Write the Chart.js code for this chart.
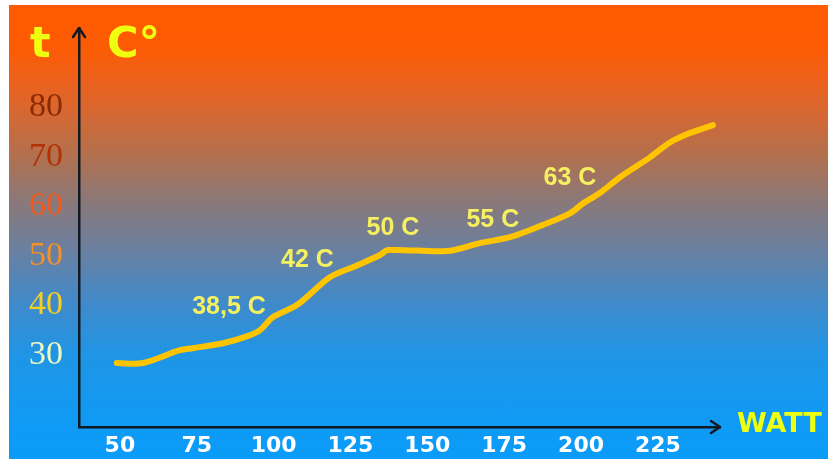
<!DOCTYPE html>
<html>
<head>
<meta charset="utf-8">
<script src="https://cdn.jsdelivr.net/npm/chart.js@4.4.1/dist/chart.umd.min.js"></script>
<style>
  html, body { margin: 0; padding: 0; background: #fff; }
  #wrap { position: relative; width: 828px; height: 459px; overflow: hidden; }
  #bg {
    position: absolute; left: 9px; top: 5px; width: 819px; height: 454px;
    background: linear-gradient(to bottom,
      #ff5a00 0%, #fd5b02 9%, #ec611e 17%, #dc662c 22%, #b3704e 33%,
      #8b7878 43%, #6a80a0 54%, #3f8acb 66%, #1f95e5 77%, #0f9af5 92%, #0a9cf8 100%);
  }
  #chart { position: absolute; left: 0; top: 0; }
  .lbl { position: absolute; color: #eeff10; font-family: "DejaVu Sans", sans-serif; font-weight: bold; white-space: nowrap; }
</style>
</head>
<body>
<div id="wrap">
  <div id="bg"></div>
  <canvas id="chart" width="828" height="459"></canvas>
  <div class="lbl" style="left:30px; top:17px; font-size:43px;">t</div>
  <div class="lbl" style="left:107px; top:17px; font-size:43px;">C°</div>
  <div class="lbl" style="left:737px; top:407px; font-size:27px;">WATT</div>
</div>
<script>
// temperature curve
const wattX = [49, 57.5, 69.5, 73.7, 83.5, 91.3, 95.5, 99.8, 107.6, 118.3, 127.1, 134.6, 137.2, 156.4, 167.1, 176.9, 185.7, 196.4, 200.6, 206.1, 212.7, 222.4, 228.9, 235.4, 242.9];
const tempY = [28.4, 28.4, 31.0, 31.4, 32.4, 33.8, 35.0, 37.7, 40.1, 45.7, 48.1, 50.2, 51.2, 51.0, 52.6, 53.8, 55.8, 58.6, 60.6, 62.7, 65.9, 69.9, 72.9, 74.8, 76.4];

const xTicks = [50, 75, 100, 125, 150, 175, 200, 225];
const yTicks = [30, 40, 50, 60, 70, 80];
const yTickColors = ['#eef8c0', '#f5d020', '#f5902a', '#f05a20', '#b33205', '#8c2a05'];

// value labels along the curve
const annoText = ['38,5 C', '42 C', '50 C', '55 C', '63 C'];
const annoX = [85.5, 111, 138.8, 171.3, 196.4];
const annoY = [39.6, 49.2, 55.6, 57.2, 65.7];

const axisColor = '#111a22';

const arrowPlugin = {
  id: 'arrows',
  afterDraw(chart) {
    const ctx = chart.ctx;
    const a = chart.chartArea;
    ctx.save();
    ctx.strokeStyle = axisColor;
    ctx.lineWidth = 2.5;
    ctx.lineCap = 'round';
    ctx.lineJoin = 'round';
    ctx.beginPath();
    ctx.moveTo(a.left - 6, a.top + 9);
    ctx.lineTo(a.left, a.top);
    ctx.lineTo(a.left + 6, a.top + 9);
    ctx.moveTo(a.right - 9, a.bottom - 6);
    ctx.lineTo(a.right, a.bottom);
    ctx.lineTo(a.right - 9, a.bottom + 6);
    ctx.stroke();
    ctx.restore();
  }
};

const annoPlugin = {
  id: 'annoLabels',
  afterDatasetsDraw(chart) {
    const ctx = chart.ctx;
    const xs = chart.scales.x, ys = chart.scales.y;
    ctx.save();
    ctx.font = 'bold 25px "Liberation Sans", Arial, sans-serif';
    ctx.fillStyle = '#f5f060';
    ctx.textAlign = 'center';
    ctx.textBaseline = 'middle';
    annoText.forEach((t, i) => {
      ctx.fillText(t, xs.getPixelForValue(annoX[i]), ys.getPixelForValue(annoY[i]));
    });
    ctx.restore();
  }
};

new Chart(document.getElementById('chart'), {
  type: 'line',
  data: {
    datasets: [{
      data: wattX.map((x, i) => ({ x: x, y: tempY[i] })),
      borderColor: '#ffc400',
      borderWidth: 6,
      borderCapStyle: 'round',
      borderJoinStyle: 'round',
      pointRadius: 0,
      tension: 0.3,
      fill: false
    }]
  },
  options: {
    responsive: false,
    animation: false,
    devicePixelRatio: 1,
    layout: { padding: { top: 28, right: 108, left: 0, bottom: 0 } },
    plugins: { legend: { display: false }, tooltip: { enabled: false } },
    scales: {
      x: {
        type: 'linear',
        min: 36.7,
        max: 245.2,
        afterBuildTicks: (s) => { s.ticks = xTicks.map(v => ({ value: v })); },
        afterFit: (s) => { s.height = 32; s.paddingLeft = 0; s.paddingRight = 0; },
        grid: { display: false, drawTicks: false },
        border: { display: true, color: axisColor, width: 2.5 },
        ticks: {
          padding: 6,
          color: '#ffffff',
          font: { family: '"DejaVu Sans", Verdana, sans-serif', size: 22, weight: 'bold' },
          maxRotation: 0,
          autoSkip: false
        }
      },
      y: {
        min: 15.5,
        max: 96,
        afterBuildTicks: (s) => { s.ticks = yTicks.map(v => ({ value: v })); },
        afterFit: (s) => { s.width = 79; s.paddingTop = 0; s.paddingBottom = 0; },
        grid: { display: false, drawTicks: false },
        border: { display: true, color: axisColor, width: 2.5 },
        ticks: {
          padding: 16,
          color: (c) => yTickColors[yTicks.indexOf(c.tick.value)] || '#fff',
          font: { family: '"Liberation Serif", "Times New Roman", serif', size: 34 },
          autoSkip: false
        }
      }
    }
  },
  plugins: [arrowPlugin, annoPlugin]
});
</script>
</body>
</html>
